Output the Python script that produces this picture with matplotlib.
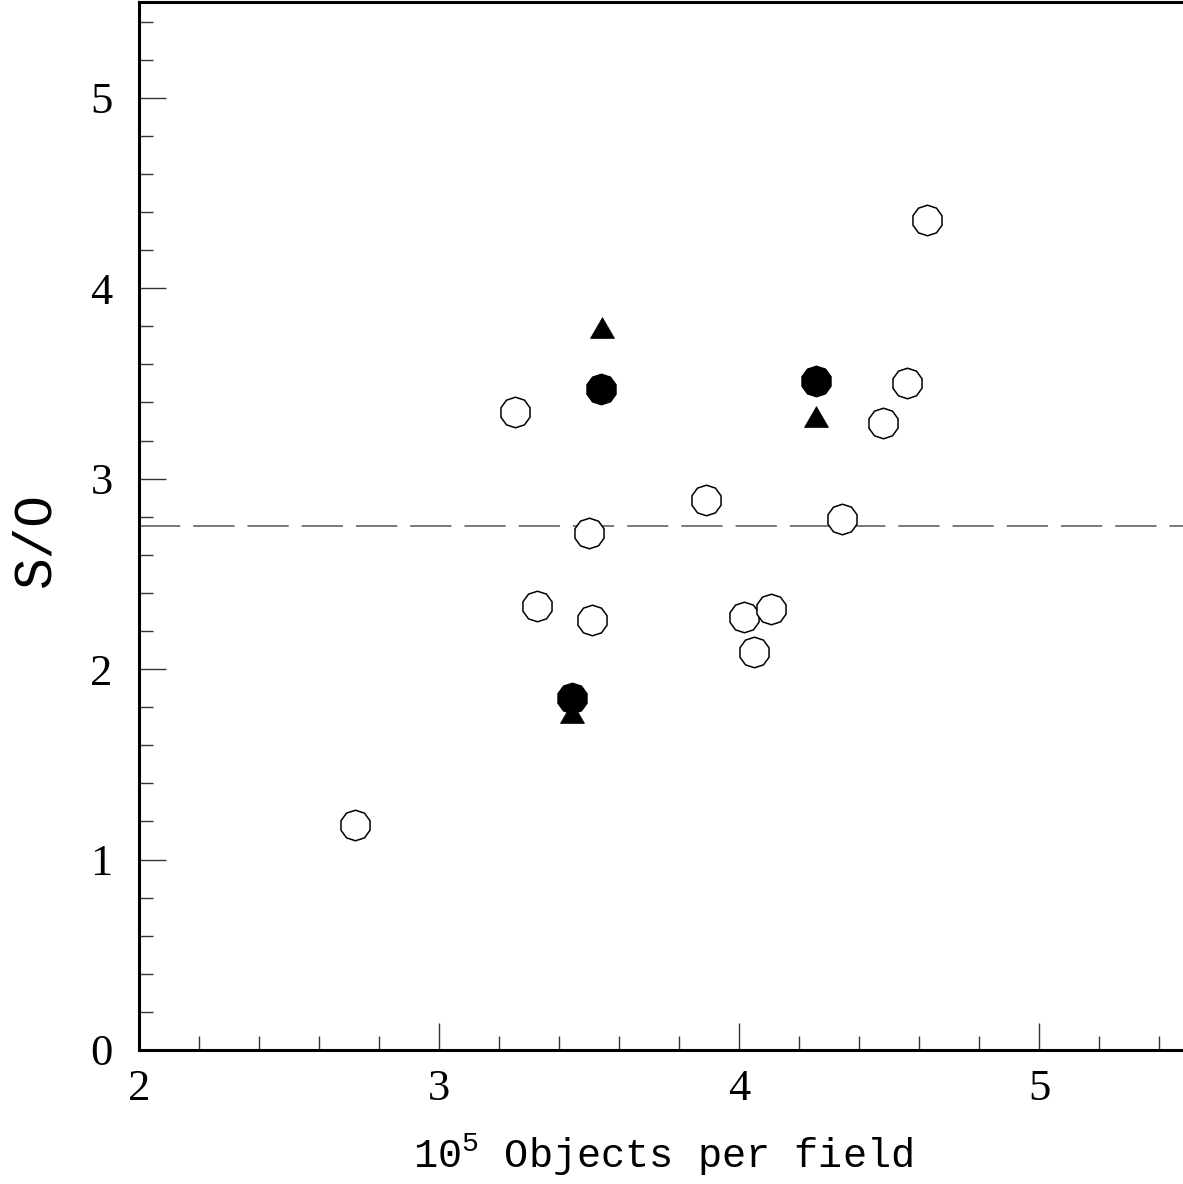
import matplotlib

matplotlib.use("Agg")
import matplotlib.pyplot as plt
from matplotlib.ticker import MultipleLocator

# open decagons: the full sample
open_x = [2.72, 3.253, 3.327, 3.50, 3.51, 3.89, 4.017, 4.05, 4.107, 4.343, 4.48, 4.56, 4.627]
open_y = [1.18, 3.35, 2.33, 2.715, 2.26, 2.89, 2.275, 2.09, 2.315, 2.79, 3.29, 3.50, 4.36]

# filled decagons and triangles: the three marked fields
fill_x = [3.54, 3.443, 4.257]
fill_y = [3.47, 1.85, 3.51]
tri_x = [3.543, 3.443, 4.257]
tri_y = [3.775, 1.755, 3.31]

mean_so = 2.75

SERIF = "Liberation Serif"
MONO = "Liberation Mono"

plt.rcParams["mathtext.fontset"] = "custom"
plt.rcParams["mathtext.rm"] = MONO
plt.rcParams["mathtext.it"] = MONO

fig = plt.figure(figsize=(11.83, 11.84), dpi=100)
ax = fig.add_axes([0.1175, 0.1132, 0.8876, 0.8847])

ax.axhline(mean_so, color="#555555", lw=1.1, dashes=(27, 8.5))

ax.plot(open_x, open_y, ls="none", marker=(10, 0, 0), ms=22,
        mfc="white", mec="black", mew=1.1)
ax.plot(fill_x, fill_y, ls="none", marker=(10, 0, 0), ms=22,
        mfc="black", mec="black", mew=1.0)
ax.plot(tri_x, tri_y, ls="none", marker=(3, 0, 0), ms=20,
        mfc="black", mec="black", mew=0.5)

ax.set_xlim(2, 5.5)
ax.set_ylim(0, 5.5)
ax.xaxis.set_major_locator(MultipleLocator(1))
ax.xaxis.set_minor_locator(MultipleLocator(0.2))
ax.yaxis.set_major_locator(MultipleLocator(1))
ax.yaxis.set_minor_locator(MultipleLocator(0.2))
ax.tick_params(which="both", direction="in", top=False, right=False,
               width=1.0, color="#333333")
ax.tick_params(which="major", length=19.5)
ax.tick_params(which="minor", length=10)
ax.tick_params(axis="x", which="major", pad=14)
ax.tick_params(axis="y", which="major", pad=19)
for lab in ax.get_xticklabels() + ax.get_yticklabels():
    lab.set_fontfamily(SERIF)
    lab.set_fontsize(32)
for side in ax.spines.values():
    side.set_linewidth(2.2)

ax.set_xlabel("10$^{5}$ Objects per field", fontfamily=MONO, fontsize=29)
ax.xaxis.set_label_coords(0.499, -0.078)
ax.set_ylabel("S/O", fontfamily=MONO, fontsize=38)
ax.yaxis.set_label_coords(-0.075, 0.487)

fig.savefig("out.png", dpi=100)
